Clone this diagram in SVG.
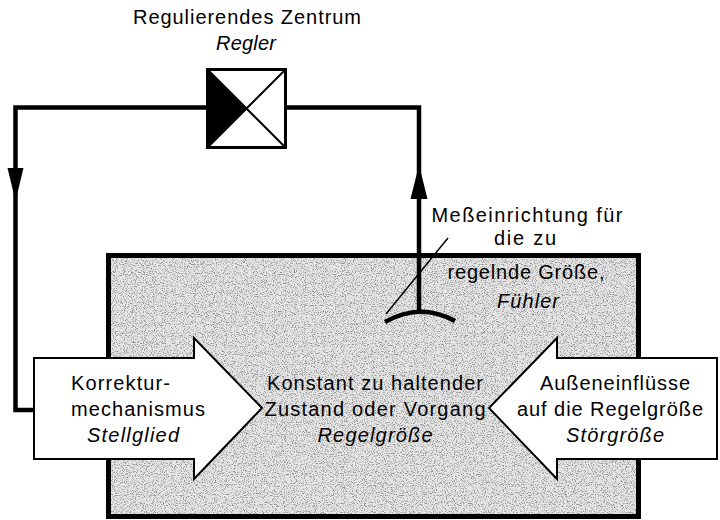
<svg xmlns="http://www.w3.org/2000/svg" width="720" height="520" viewBox="0 0 720 520">
<defs>
<filter id="speckle" x="0" y="0" width="100%" height="100%">
<feTurbulence type="fractalNoise" baseFrequency="0.9" numOctaves="2" seed="7" result="n"/>
<feColorMatrix in="n" type="matrix" values="0 0 0 0 0.3 0 0 0 0 0.3 0 0 0 0 0.3 -5 0 0 0 2.55" result="dots"/>
<feComposite in="dots" in2="SourceGraphic" operator="in" result="clip"/>
<feMerge><feMergeNode in="SourceGraphic"/><feMergeNode in="clip"/></feMerge>
</filter>
</defs>
<style>
text{font-family:"Liberation Sans",Arial,sans-serif;font-size:20px;fill:#000;text-anchor:middle}
.it{font-style:italic}
.conn{fill:none;stroke:#000;stroke-width:4.5;stroke-linejoin:miter}
.head{fill:#000;stroke:none}
.arrow{fill:#fff;stroke:#000;stroke-width:2;stroke-linejoin:miter}
</style>
<rect width="720" height="520" fill="#fff"/>

<g id="regelgroesse">
<rect x="108.5" y="255.5" width="530" height="261" fill="#e6e6e6" filter="url(#speckle)"/>
<rect x="108.5" y="255.5" width="530" height="261" fill="none" stroke="#000" stroke-width="5"/>
<text x="375" y="390" textLength="216" lengthAdjust="spacing">Konstant zu haltender</text>
<text x="375" y="416" textLength="221" lengthAdjust="spacing">Zustand oder Vorgang</text>
<text x="375" y="442" class="it" textLength="115" lengthAdjust="spacing">Regelgröße</text>
</g>

<g id="regler">
<text x="247" y="24" textLength="228" lengthAdjust="spacing">Regulierendes Zentrum</text>
<text x="246" y="50" class="it" textLength="60" lengthAdjust="spacing">Regler</text>
<rect x="207.5" y="69.5" width="78" height="78" fill="#fff" stroke="#000" stroke-width="3"/>
<polygon points="207.5,69.5 207.5,147.5 246.5,108.5" fill="#000"/>
<path d="M207.5,69.5 L285.5,147.5 M285.5,69.5 L207.5,147.5" stroke="#000" stroke-width="2" fill="none"/>
</g>

<g id="connectors">
<path class="conn" d="M207.5,107.5 H15.5 V410 H34"/>
<polygon class="head" points="7.5,168 23.5,168 15.5,201"/>
<path class="conn" d="M285.5,107.5 H419 V313"/>
<polygon class="head" points="410.5,199 427.5,199 419,165"/>
</g>

<g id="fuehler">
<path d="M385,322 Q420,302 455,321" fill="none" stroke="#000" stroke-width="4.5"/>
<line x1="386" y1="314" x2="448" y2="238" stroke="#000" stroke-width="1.5"/>
<text x="527" y="222" textLength="191" lengthAdjust="spacing">Meßeinrichtung für</text>
<text x="525" y="245" textLength="62" lengthAdjust="spacing">die  zu</text>
<text x="526" y="279" textLength="157" lengthAdjust="spacing">regelnde Größe,</text>
<text x="528" y="308" class="it" textLength="62" lengthAdjust="spacing">Fühler</text>
</g>

<g id="stellglied">
<polygon class="arrow" points="34,358 194,358 194,338 262,408 194,479 194,459 34,459"/>
<text x="120.5" y="390" textLength="99" lengthAdjust="spacing">Korrektur-</text>
<text x="138" y="416" textLength="134" lengthAdjust="spacing">mechanismus</text>
<text x="133" y="442" class="it" textLength="92" lengthAdjust="spacing">Stellglied</text>
</g>

<g id="stoergroesse">
<polygon class="arrow" points="717,358 557,358 557,338 489,408 557,479 557,459 717,459"/>
<text x="615" y="390" textLength="150" lengthAdjust="spacing">Außeneinflüsse</text>
<text x="610" y="416" textLength="186" lengthAdjust="spacing">auf die Regelgröße</text>
<text x="615" y="442" class="it" textLength="98" lengthAdjust="spacing">Störgröße</text>
</g>
</svg>
